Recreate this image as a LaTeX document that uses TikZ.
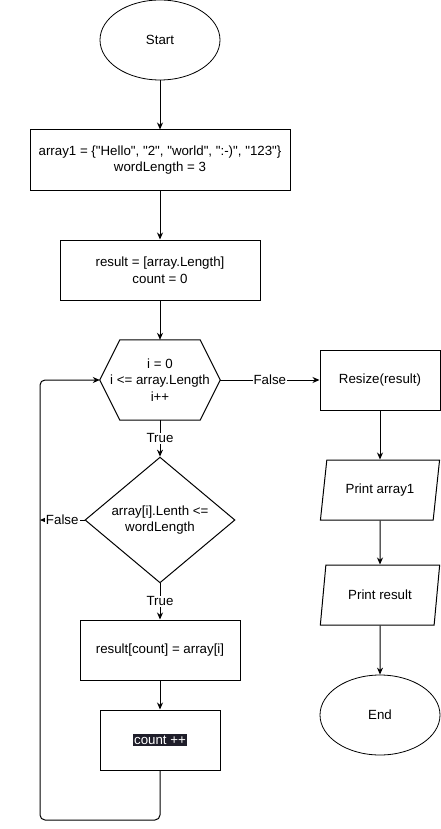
\documentclass[tikz,border=0pt]{standalone}
\usepackage{fontspec}
\setmainfont{Liberation Sans}[Ligatures=TeXOff]
\usetikzlibrary{shapes.geometric,arrows.meta}
\definecolor{markbg}{HTML}{1F1E2A}

\begin{document}
\begin{tikzpicture}[x=1pt,y=-1pt,
    every node/.style={font=\fontsize{13.3}{16.5}\selectfont,align=center,inner sep=0pt},
    box/.style={draw,line width=1pt,minimum width=#1,minimum height=60},
    oval/.style={draw,line width=0.8pt,ellipse,minimum width=120,minimum height=80},
    iobox/.style={draw,line width=1pt,trapezium,trapezium left angle=71.57,trapezium right angle=108.43,
        trapezium stretches=true,minimum width=120,minimum height=60},
    flow/.style={line width=1pt,-{Stealth[length=7pt,width=6pt]}},
    tag/.style={fill=white,inner sep=1pt}]

\useasboundingbox (0,0) rectangle (441,829);

\node[oval] (start) at (160,40) {Start};
\node[box=260] (init) at (160,160) {array1 = \{"Hello", "2", "world", ":-)", "123"\}\\wordLength = 3};
\node[box=200] (alloc) at (160,270) {result = [array.Length]\\count = 0};
\node[minimum width=120,minimum height=80] (loop) at (160,380) {i = 0\\i <= array.Length\\i++};
\draw[line width=1pt] (loop.west) -- ([xshift=20pt]loop.north west) -- ([xshift=-20pt]loop.north east)
    -- (loop.east) -- ([xshift=-20pt]loop.south east) -- ([xshift=20pt]loop.south west) -- cycle; % hexagon
\node[draw,line width=1pt,diamond,minimum width=150,minimum height=120] (check) at (160,520) {array[i].Lenth <=\\wordLength};
\node[box=160] (store) at (160,650) {result[count] = array[i]};
\node[box=120] (incr) at (160,740) {\setlength{\fboxsep}{1.5pt}\colorbox{markbg}{\color{white}count ++}};

\node[box=120] (resize) at (380,380) {Resize(result)};
\node[iobox] (printA) at (380,490) {Print array1};
\node[iobox] (printR) at (380,595) {Print result};
\node[oval] (finish) at (380,715) {End};

\draw[flow] (start) -- (init);
\draw[flow] (init) -- (alloc);
\draw[flow] (alloc) -- (loop);
\draw[flow] (loop.east) -- node[tag] {False} (resize);
\draw[flow] (loop.south) -- node[tag] {True} (check);
\draw[flow] (check.south) -- node[tag] {True} (store);
\draw[flow] (store) -- (incr);
\coordinate (side) at (40,520);
\draw[flow] (check.west) -- node[tag] {False} (side);
\draw[flow,rounded corners=5pt] (incr.south) -- (160,820) -- (40,820) -- (40,380) -- (loop.west); % back to loop
\draw[flow] (resize) -- (printA);
\draw[flow] (printA) -- (printR);
\draw[flow] (printR) -- (finish);
\end{tikzpicture}
\end{document}
